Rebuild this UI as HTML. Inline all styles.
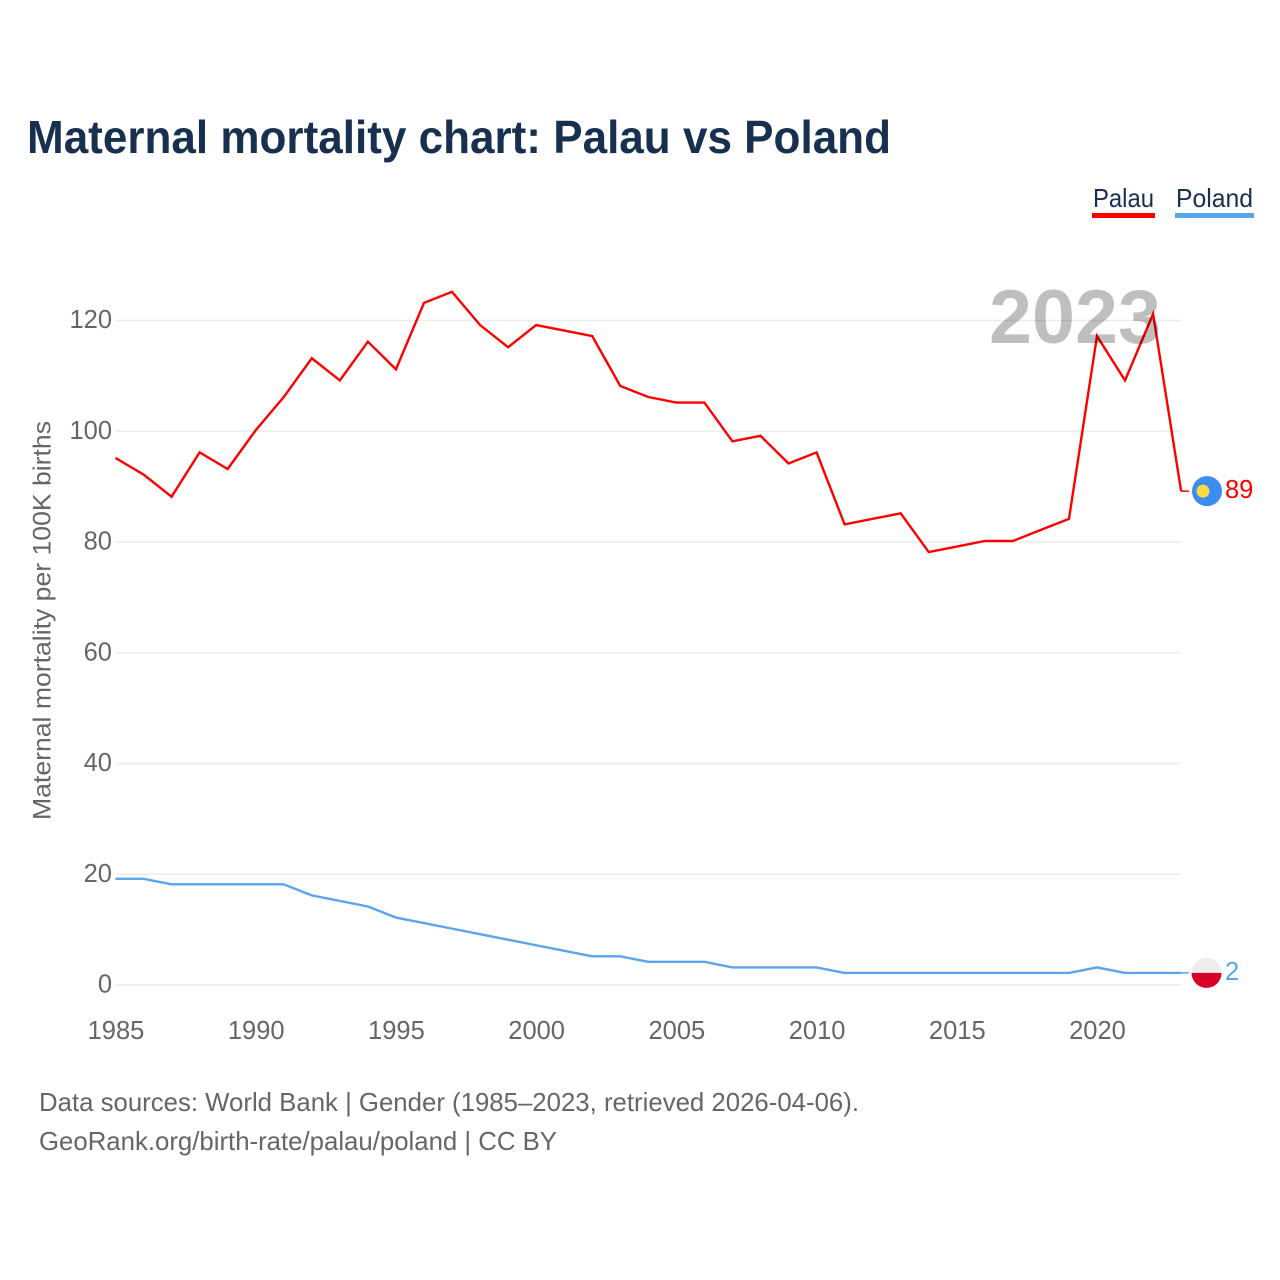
<!DOCTYPE html>
<html lang="en">
<head>
<meta charset="utf-8">
<title>Maternal mortality chart: Palau vs Poland</title>
<style>
  html, body { margin: 0; padding: 0; background: #fff; }
  svg { display: block; font-family: "Liberation Sans", sans-serif; }
</style>
</head>
<body>
<svg id="chart" width="1280" height="1280" viewBox="0 0 1280 1280" xmlns="http://www.w3.org/2000/svg">
  <rect width="1280" height="1280" fill="#ffffff"/>
  <text x="27" y="153" font-size="46" font-weight="700" fill="#17304f" textLength="864" lengthAdjust="spacingAndGlyphs">Maternal mortality chart: Palau vs Poland</text>

  <g>
    <text x="1093" y="207" font-size="26" fill="#17304f" textLength="61" lengthAdjust="spacingAndGlyphs">Palau</text>
    <rect x="1092" y="213" width="63" height="5" fill="#ff0000"/>
  </g>
  <g>
    <text x="1176" y="207" font-size="26" fill="#17304f" textLength="77" lengthAdjust="spacingAndGlyphs">Poland</text>
    <rect x="1175" y="213" width="79" height="5" fill="#5ba4ee"/>
  </g>

  <g id="grid"></g>
  <g id="y-ticks"></g>
  <g id="x-ticks"></g>
  <text transform="translate(50.5 620.5) rotate(-90)" text-anchor="middle" font-size="25" fill="#666666" textLength="399" lengthAdjust="spacingAndGlyphs">Maternal mortality per 100K births</text>

  <g id="series"></g>

  <text x="989" y="343" font-size="76" font-weight="700" fill="#000000" fill-opacity="0.25" textLength="172" lengthAdjust="spacingAndGlyphs">2023</text>

  <g id="end-markers"></g>

  <text x="39" y="1111" font-size="26" fill="#666666" textLength="820" lengthAdjust="spacingAndGlyphs">Data sources: World Bank | Gender (1985–2023, retrieved 2026-04-06).</text>
  <text x="39" y="1150" font-size="26" fill="#666666" textLength="518" lengthAdjust="spacingAndGlyphs">GeoRank.org/birth-rate/palau/poland | CC BY</text>
</svg>
<script>
const years = [1985,1986,1987,1988,1989,1990,1991,1992,1993,1994,1995,1996,1997,1998,1999,2000,2001,2002,2003,2004,2005,2006,2007,2008,2009,2010,2011,2012,2013,2014,2015,2016,2017,2018,2019,2020,2021,2022,2023];
const palauValues = [95,92,88,96,93,100,106,113,109,116,111,123,125,119,115,119,118,117,108,106,105,105,98,99,94,96,83,84,85,78,79,80,80,82,84,117,109,121,89];
const polandValues = [19,19,18,18,18,18,18,16,15,14,12,11,10,9,8,7,6,5,5,4,4,4,3,3,3,3,2,2,2,2,2,2,2,2,2,3,2,2,2];
const yTickValues = [0,20,40,60,80,100,120];
const xTickValues = [1985,1990,1995,2000,2005,2010,2015,2020];

const NS = 'http://www.w3.org/2000/svg';
function xScale(year) { return 116 + (year - 1985) * (1097.5 - 116) / 35; }
function yScale(value) { return 985 - value * (985 - 320.5) / 120; }
function lineX(year) { return xScale(year) - 0.5; }
function lineY(value) { return yScale(value) - 1; }
function make(tag, parent, attrs) {
  const el = document.createElementNS(NS, tag);
  for (const key in attrs) el.setAttribute(key, attrs[key]);
  parent.appendChild(el);
  return el;
}

const grid = document.getElementById('grid');
const yTicks = document.getElementById('y-ticks');
yTickValues.forEach(function (v) {
  const line = make('line', grid, { x1: 116, x2: 1181, y1: yScale(v), y2: yScale(v), stroke: '#ececec', 'stroke-width': 1.5 });
  
  
  const label = make('text', yTicks, { x: 112, y: yScale(v) + 7.5, 'text-anchor': 'end', 'font-size': 25.5, fill: '#666666' });
  
  
  label.textContent = v;
});

const xTicks = document.getElementById('x-ticks');
xTickValues.forEach(function (v) {
  const label = make('text', xTicks, { x: xScale(v), y: 1039, 'text-anchor': 'middle', 'font-size': 25.5, fill: '#666666' });
  
  
  label.textContent = v;
});

const series = document.getElementById('series');
function drawSeries(values, color, name) {
  const pts = values.map(function (v, i) { return lineX(years[i]).toFixed(2) + ',' + lineY(v).toFixed(2); });
  const line = make('polyline', series, { points: pts.join(' '), fill: 'none', stroke: color, 'stroke-width': 2.4, 'stroke-linejoin': 'miter' });
  
  
  const last = values[values.length - 1];
  const connector = make('line', series, { x1: lineX(years[years.length - 1]), x2: 1189, y1: lineY(last), y2: lineY(last), stroke: color, 'stroke-width': 1.5 });
  
  
}
drawSeries(polandValues, '#5ba4ee', 'line-poland');
drawSeries(palauValues, '#ff0000', 'line-palau');

const markers = document.getElementById('end-markers');
const palauLast = palauValues[palauValues.length - 1];
const polandLast = polandValues[polandValues.length - 1];
const palauY = lineY(palauLast);
const polandY = lineY(polandLast);

const palauFlag = make('circle', markers, { cx: 1207, cy: palauY, r: 15, fill: '#3a8ef2' });


const palauSun = make('circle', markers, { cx: 1203, cy: palauY, r: 6.5, fill: '#ffd84a' });


const palauLabel = make('text', markers, { x: 1225, y: palauY + 7, 'font-size': 25.5, fill: '#ff0000' });


palauLabel.textContent = palauLast;

const polandTop = make('path', markers, { d: 'M1191.5 ' + polandY + 'a15 15 0 0 1 30 0z', fill: '#eeeeee' });


const polandBottom = make('path', markers, { d: 'M1191.5 ' + polandY + 'a15 15 0 0 0 30 0z', fill: '#d80027' });


const polandLabel = make('text', markers, { x: 1225, y: polandY + 7, 'font-size': 25.5, fill: '#5ba4ee' });


polandLabel.textContent = polandLast;
</script>
</body>
</html>
